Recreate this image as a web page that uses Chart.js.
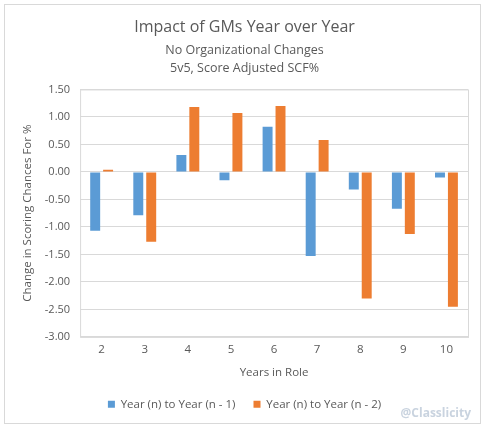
<!DOCTYPE html>
<html>
<head>
<meta charset="utf-8">
<script src="https://cdn.jsdelivr.net/npm/chart.js@4"></script>
<style>
  html, body { margin: 0; padding: 0; background: #fff; }
  #box {
    position: absolute; left: 4px; top: 4px;
    width: 477px; height: 420px;
    border: 1px solid #d9d9d9; box-sizing: border-box;
  }
  canvas { display: block; }
</style>
</head>
<body>
<div id="box"><canvas id="gmChart" width="475" height="418"></canvas></div>
<script>
// chart values
const years = ['2', '3', '4', '5', '6', '7', '8', '9', '10'];
const vsPrevYear = [-1.07, -0.79, 0.31, -0.15, 0.82, -1.53, -0.32, -0.67, -0.10];
const vsTwoYears = [0.04, -1.27, 1.18, 1.07, 1.20, 0.58, -2.30, -1.13, -2.45];
const seriesNames = ['Year (n) to Year (n - 1)', 'Year (n) to Year (n - 2)'];
const yTicks = [-3, 1.5, 0.5];

const FONT = '"Open Sans", sans-serif';
const GREY = '#595959';

// border around the plot area + watermark
const frame = {
    id: 'frame',
    afterDatasetsDraw(chart) {
        const { ctx, chartArea: a } = chart;
        ctx.save();
        ctx.strokeStyle = '#d9d9d9';
        ctx.lineWidth = 1;
        ctx.strokeRect(a.left + 0.5, a.top + 0.5, a.right - a.left, a.bottom - a.top);
        ctx.restore();
    },
    afterDraw(chart) {
        const ctx = chart.ctx;
        ctx.save();
        ctx.font = 'bold 12px ' + FONT;
        ctx.fillStyle = '#c9d3df';
        ctx.textAlign = 'right';
        ctx.fillText('@Classlicity', 466, 409);
        ctx.restore();
    }
};

const ctx = document.getElementById('gmChart').getContext('2d');
new Chart(ctx, {
    type: 'bar',
    data: {
        labels: years,
        datasets: [{
            label: seriesNames[0],
            data: vsPrevYear,
            backgroundColor: '#5b9bd5',
            categoryPercentage: 0.6,
            barPercentage: 0.77
        }, {
            label: seriesNames[1],
            data: vsTwoYears,
            backgroundColor: '#ed7d31',
            categoryPercentage: 0.6,
            barPercentage: 0.77
        }]
    },
    plugins: [frame],
    options: {
        responsive: false,
        animation: false,
        layout: { padding: { left: 16, right: 12, top: 7, bottom: 3 } },
        plugins: {
            title: {
                display: true,
                text: 'Impact of GMs Year over Year',
                color: GREY,
                font: { family: FONT, size: 16, weight: 'normal' },
                padding: { top: 6, bottom: 4 }
            },
            subtitle: {
                display: true,
                text: ['No Organizational Changes', '5v5, Score Adjusted SCF%'],
                color: GREY,
                font: { family: FONT, size: 12.5, weight: 'normal', lineHeight: 1.45 },
                padding: { bottom: 12 }
            },
            legend: {
                position: 'bottom',
                labels: {
                    color: GREY,
                    font: { family: FONT, size: 11.5 },
                    boxWidth: 7,
                    boxHeight: 7,
                    padding: 18
                }
            },
            tooltip: { enabled: false }
        },
        scales: {
            x: {
                grid: { display: false, drawTicks: false },
                border: { display: false },
                ticks: { color: GREY, font: { family: FONT, size: 11.5 }, padding: 6 },
                title: {
                    display: true,
                    text: 'Years in Role',
                    color: GREY,
                    font: { family: FONT, size: 11.5 },
                    padding: { top: 3, bottom: 1 }
                }
            },
            y: {
                min: yTicks[0],
                max: yTicks[1],
                ticks: {
                    stepSize: yTicks[2],
                    color: GREY,
                    font: { family: FONT, size: 11 },
                    callback: v => Number(v).toFixed(2),
                    padding: 10
                },
                grid: { color: '#d9d9d9', drawTicks: false },
                border: { display: false },
                title: {
                    display: true,
                    text: 'Change in Scoring Chances For %',
                    color: GREY,
                    font: { family: FONT, size: 11.5 },
                    padding: { top: 0, bottom: 0 }
                }
            }
        }
    }
});
</script>
</body>
</html>
